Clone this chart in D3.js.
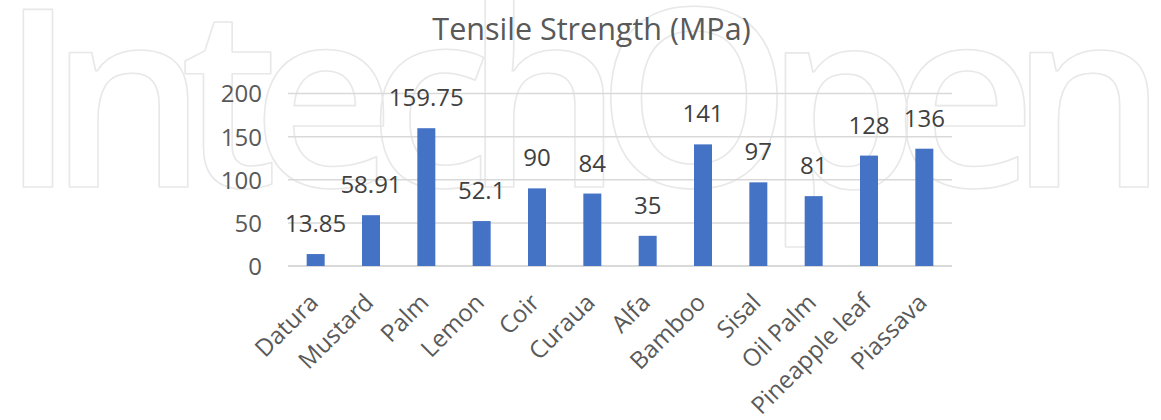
<!DOCTYPE html>
<html>
<head>
<meta charset="utf-8">
<script src="https://cdn.jsdelivr.net/npm/d3@7"></script>
<style>
  html, body { margin: 0; padding: 0; background: #fff; }
  svg { display: block; }
</style>
</head>
<body>
<svg id="chart" width="1161" height="420"></svg>
<script>
// Fibre names and their tensile strength (MPa)
const categories = ["Datura", "Mustard", "Palm", "Lemon", "Coir", "Curaua", "Alfa",
                    "Bamboo", "Sisal", "Oil Palm", "Pineapple leaf", "Piassava"];
const strength = [13.85, 58.91, 159.75, 52.1, 90, 84, 35, 141, 97, 81, 128, 136];
const valueLabels = ["13.85", "58.91", "159.75", "52.1", "90", "84", "35",
                     "141", "97", "81", "128", "136"];
const yTicks = [0, 50, 100, 150, 200];
const title = "Tensile Strength (MPa)";
const watermark = "IntechOpen";

const W = 1161, H = 420;
const margin = { left: 288, right: 209, top: 93.5, bottom: 154 };
const font = "'Open Sans', 'Noto Sans', sans-serif";

const svg = d3.select("#chart");
svg.append("rect").attr("width", W).attr("height", H).attr("fill", "#fff");

// faint outlined publisher mark behind the chart
svg.append("text")
  .attr("x", 0).attr("y", 187)
  .style("font-family", "'Open Sans', sans-serif")
  .style("font-size", "249px")
  .style("font-weight", 600)
  .style("letter-spacing", "-27px")
  .attr("fill", "none")
  .attr("stroke", "#e8e8e8")
  .attr("stroke-width", 1.6)
  .attr("stroke-linejoin", "round")
  .text(watermark);

const x = d3.scaleBand()
  .domain(categories)
  .range([margin.left, W - margin.right])
  .paddingInner(0.675)
  .paddingOuter(0.3375);

const y = d3.scaleLinear()
  .domain([0, 200])
  .range([H - margin.bottom, margin.top]);

// horizontal gridlines
svg.append("g")
  .selectAll("line")
  .data(yTicks)
  .join("line")
  .attr("x1", margin.left).attr("x2", W - margin.right)
  .attr("y1", d => y(d)).attr("y2", d => y(d))
  .attr("stroke", "#d9d9d9")
  .attr("stroke-width", d => d === 0 ? 2 : 1.5);

// y axis labels
const yAxis = d3.axisLeft(y).tickValues(yTicks).tickSize(0).tickPadding(0);
svg.append("g")
  .attr("transform", `translate(${margin.left - 26},0)`)
  .call(yAxis)
  .call(g => g.select(".domain").remove())
  .call(g => g.selectAll("text")
    .attr("fill", "#595959")
    .style("font-family", font)
    .style("font-size", "24px")
    .attr("dy", "0.35em"));

// bars
svg.append("g")
  .selectAll("rect")
  .data(categories)
  .join("rect")
  .attr("x", d => x(d))
  .attr("width", x.bandwidth())
  .attr("y", (d, i) => y(strength[i]))
  .attr("height", (d, i) => y(0) - y(strength[i]))
  .attr("fill", "#4472c4");

// value labels above the bars
svg.append("g")
  .selectAll("text")
  .data(categories)
  .join("text")
  .attr("x", d => x(d) + x.bandwidth() / 2)
  .attr("y", (d, i) => y(strength[i]) - 22)
  .attr("text-anchor", "middle")
  .attr("fill", "#404040")
  .style("font-family", font)
  .style("font-size", "24px")
  .text((d, i) => valueLabels[i]);

// rotated category labels
const xAxis = d3.axisBottom(x).tickSize(0).tickPadding(0);
svg.append("g")
  .attr("transform", `translate(0,${y(0)})`)
  .call(xAxis)
  .call(g => g.select(".domain").remove())
  .call(g => g.selectAll("text")
    .attr("fill", "#595959")
    .style("font-family", font)
    .style("font-size", "24px")
    .attr("text-anchor", "end")
    .attr("y", 0).attr("dy", 0)
    .attr("transform", "translate(4,38) rotate(-45)"));

// chart title
svg.append("text")
  .attr("x", (margin.left + W - margin.right) / 2 - 28.5)
  .attr("y", 40)
  .attr("text-anchor", "middle")
  .attr("fill", "#595959")
  .style("font-family", font)
  .style("font-size", "30.5px")
  .text(title);
</script>
</body>
</html>
